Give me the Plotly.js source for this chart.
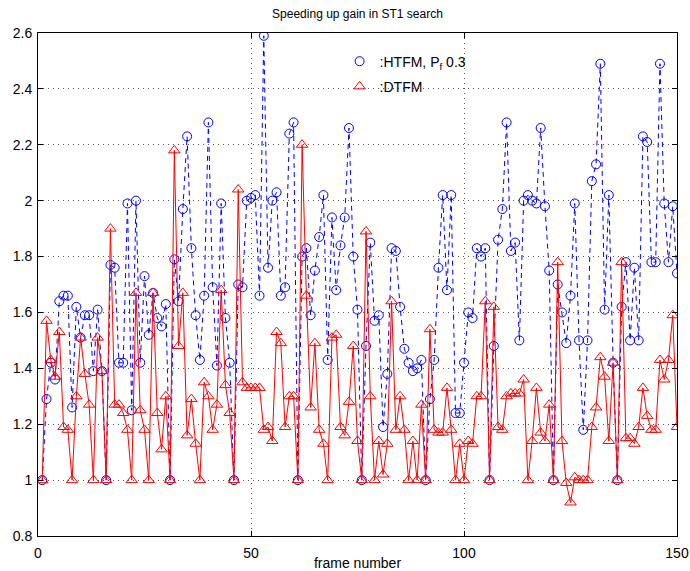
<!DOCTYPE html>
<html>
<head>
<meta charset="utf-8">
<script src="https://cdn.plot.ly/plotly-3.0.1.min.js"></script>
<style>html,body{margin:0;padding:0;background:#fff;}</style>
</head>
<body>
<div id="chart" style="width:690px;height:571px;"></div>
<script>
// frame numbers 1..150
const frames = [];
for (let i = 1; i <= 150; i++) frames.push(i);

// HTFM, Pf 0.3 (blue circles, dashed)
const htfm = [
  1.00,1.29,1.42,1.36,1.64,1.66,1.66,1.26,1.62,1.51,
  1.59,1.59,1.39,1.61,1.39,1.00,1.77,1.76,1.42,1.42,
  1.99,1.25,2.00,1.42,1.73,1.52,1.67,1.58,1.55,1.63,
  1.00,1.79,1.64,1.97,2.23,1.83,1.59,1.43,1.66,2.28,
  1.69,1.41,1.99,1.58,1.42,1.00,1.70,1.69,2.00,2.01,
  2.02,1.66,2.59,1.76,2.00,2.03,1.66,1.69,2.24,2.28,
  1.00,1.80,1.83,1.59,1.75,1.87,2.02,1.43,1.94,1.68,
  1.84,1.94,2.26,1.80,1.61,1.00,1.48,1.85,1.57,1.59,
  1.19,1.38,1.83,1.82,1.62,1.47,1.42,1.39,1.40,1.43,
  1.00,1.29,1.43,1.76,2.02,1.68,2.02,1.24,1.24,1.42,
  1.60,1.58,1.83,1.80,1.83,1.00,1.48,1.86,1.97,2.28,
  1.82,1.85,1.50,2.00,2.02,2.00,1.99,2.26,1.98,1.75,
  1.00,1.70,1.60,1.49,1.66,1.99,1.50,1.18,1.50,2.07,
  2.13,2.49,1.61,2.02,1.42,1.00,1.62,1.78,1.50,1.76,
  1.50,2.23,2.21,1.78,1.78,2.49,1.99,1.78,1.98,1.74
];

// DTFM (red triangles, solid)
const dtfm = [
  1.00,1.57,1.43,1.37,1.53,1.19,1.18,1.00,1.30,1.51,
  1.38,1.27,1.00,1.51,1.39,1.00,1.90,1.27,1.27,1.24,
  1.18,1.00,1.67,1.25,1.18,1.00,1.67,1.24,1.11,1.30,
  1.00,2.18,1.48,1.67,1.16,1.29,1.13,1.00,1.35,1.30,
  1.18,1.27,1.68,1.34,1.24,1.00,2.04,1.35,1.33,1.33,
  1.33,1.33,1.18,1.19,1.14,1.53,1.49,1.19,1.30,1.30,
  1.00,2.20,1.66,1.26,1.49,1.18,1.13,1.00,1.51,1.52,
  1.19,1.16,1.28,1.48,1.14,1.00,1.89,1.30,1.00,1.14,
  1.02,1.13,1.64,1.18,1.30,1.18,1.00,1.14,1.00,1.27,
  1.00,1.54,1.18,1.17,1.17,1.33,1.18,1.00,1.13,1.00,
  1.14,1.13,1.30,1.30,1.64,1.00,1.62,1.19,1.18,1.30,
  1.31,1.31,1.31,1.36,1.00,1.14,1.33,1.17,1.14,1.27,
  1.00,1.78,1.14,0.99,0.92,1.01,1.00,1.00,1.00,1.19,
  1.26,1.44,1.37,1.14,1.42,1.00,1.78,1.15,1.15,1.13,
  1.19,1.33,1.23,1.18,1.18,1.43,1.36,1.43,1.59,1.19
];

const xTicks = [0, 50, 100, 150];
const yTicks = [0.8, 1, 1.2, 1.4, 1.6, 1.8, 2, 2.2, 2.4, 2.6];
const yTickText = ['0.8', '1', '1.2', '1.4', '1.6', '1.8', '2', '2.2', '2.4', '2.6'];

const BLUE = '#0000ff', RED = '#ff0000';
const FONT = 'Helvetica, Arial, "Liberation Sans", sans-serif';

const traces = [
  {
    x: frames, y: htfm, type: 'scatter', mode: 'lines+markers',
    line: {color: BLUE, width: 1, dash: '5px,4px'},
    marker: {symbol: 'circle-open', size: 9, color: BLUE, line: {width: 1, color: BLUE}},
    showlegend: false, hoverinfo: 'skip'
  },
  {
    x: frames, y: dtfm, type: 'scatter', mode: 'lines+markers',
    line: {color: RED, width: 1},
    marker: {symbol: 'triangle-up-open', size: 10, color: RED, line: {width: 1, color: RED}},
    showlegend: false, hoverinfo: 'skip'
  },
  // legend entries (marker only)
  {
    x: [null], y: [null], type: 'scatter', mode: 'markers', name: ':HTFM, P<sub>f</sub> 0.3',
    legendgroup: 'a',
    marker: {symbol: 'circle-open', size: 9, color: BLUE, line: {width: 1, color: BLUE}}
  },
  {
    x: [null], y: [null], type: 'scatter', mode: 'markers', name: ':DTFM',
    legendgroup: 'b',
    marker: {symbol: 'triangle-up-open', size: 10, color: RED, line: {width: 1, color: RED}}
  }
];

const axisCommon = {
  showline: true, linecolor: '#000', linewidth: 1, mirror: 'ticks',
  ticks: 'inside', ticklen: 5, tickcolor: '#000', tickwidth: 1,
  showgrid: true, gridcolor: '#555555', griddash: '1px,4px', gridwidth: 1,
  zeroline: false, tickfont: {family: FONT, size: 14, color: '#000'}
};

const layout = {
  width: 690, height: 571,
  margin: {l: 38, r: 13, t: 33, b: 35},
  paper_bgcolor: '#fff', plot_bgcolor: '#fff',
  font: {family: FONT, size: 14, color: '#000'},
  title: {
    text: 'Speeding up gain in ST1 search',
    font: {family: FONT, size: 12, color: '#000'},
    x: 0.5, xref: 'paper', xanchor: 'center',
    y: 1 - 14 / 571, yref: 'container', yanchor: 'middle'
  },
  xaxis: Object.assign({}, axisCommon, {
    range: [0, 150], tickmode: 'array', tickvals: xTicks,
    ticklabelstandoff: 4,
    title: {text: 'frame number', font: {family: FONT, size: 14, color: '#000'}, standoff: 4}
  }),
  yaxis: Object.assign({}, axisCommon, {
    range: [0.8, 2.6], tickmode: 'array', tickvals: yTicks, ticktext: yTickText,
    ticklabelstandoff: 2
  }),
  showlegend: true,
  legend: {
    x: 0.472, y: 0.975, xanchor: 'left', yanchor: 'top',
    bgcolor: 'rgba(0,0,0,0)', borderwidth: 0,
    font: {family: FONT, size: 14, color: '#000'},
    tracegroupgap: 4, traceorder: 'grouped'
  }
};

Plotly.newPlot('chart', traces, layout, {displayModeBar: false, staticPlot: true});
</script>
</body>
</html>
